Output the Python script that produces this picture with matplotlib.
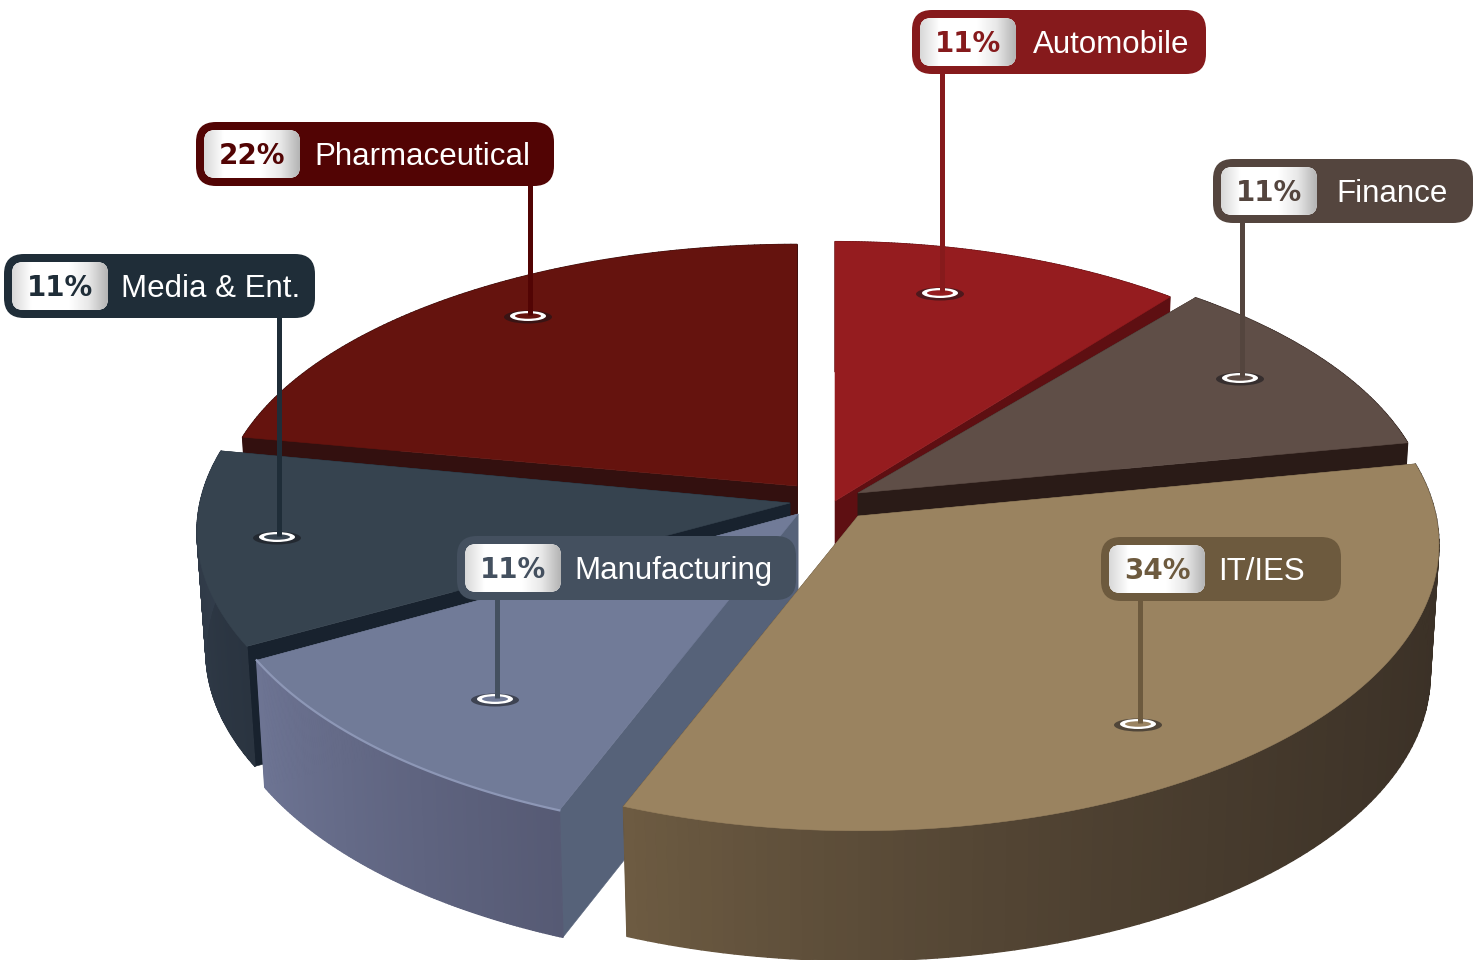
import numpy as np
import matplotlib
matplotlib.use("Agg")
import matplotlib.pyplot as plt
from matplotlib.patches import Polygon, FancyBboxPatch, Ellipse
from matplotlib.collections import PolyCollection
from matplotlib.colors import to_rgb, LinearSegmentedColormap

categories = ["Automobile", "Finance", "IT/IES", "Manufacturing", "Media & Ent.", "Pharmaceutical"]
shares = [11, 11, 34, 11, 11, 22]

# slice styling / placement
centers = {"Automobile": (835, 501, 566, .977), "Finance": (858, 493, 570, .935), "IT/IES": (858, 516, 578, .97),
           "Manufacturing": (798, 514, 588, .99), "Media & Ent.": (790, 503, 590, .97), "Pharmaceutical": (797, 486, 575, .91)}
depths = {"Automobile": 130, "Finance": 130, "IT/IES": 130, "Manufacturing": 127, "Media & Ent.": 120, "Pharmaceutical": 130}
top_col = {"Automobile": "#951c1f", "Finance": "#5f4e47", "IT/IES": "#9a8360", "Manufacturing": "#717b98",
           "Media & Ent.": "#36434f", "Pharmaceutical": "#65130e"}
face_col = {"Automobile": "#5e0f12", "Finance": "#2a1b17", "IT/IES": "#3a2f24", "Manufacturing": "#566279",
            "Media & Ent.": "#18222e", "Pharmaceutical": "#33100f"}
wall_col = {"Automobile": ("#5e0f12", "#5e0f12"), "Finance": ("#2a1b17", "#2a1b17"), "IT/IES": ("#3a3026", "#6d5b42"),
            "Manufacturing": ("#565a74", "#6d7493"), "Media & Ent.": ("#2a3440", "#333e4c"), "Pharmaceutical": ("#33100f", "#33100f")}
box_col = {"Automobile": "#861a1c", "Finance": "#54453e", "IT/IES": "#6d5a3e", "Manufacturing": "#44505f",
           "Media & Ent.": "#1f2d38", "Pharmaceutical": "#520404"}
box_pos = {"Automobile": (912, 10, 1206), "Finance": (1213, 159, 1473), "IT/IES": (1101, 537, 1341),
           "Manufacturing": (457, 536, 796), "Media & Ent.": (4, 254, 315), "Pharmaceutical": (196, 122, 554)}
label_x = {"Automobile": 1033, "Finance": 1336, "IT/IES": 1218, "Manufacturing": 574, "Media & Ent.": 121, "Pharmaceutical": 314}
pin_pos = {"Automobile": (940, 293), "Finance": (1240, 378), "IT/IES": (1138, 724),
           "Manufacturing": (495, 699), "Media & Ent.": (277, 537), "Pharmaceutical": (528, 316)}
draw_order = ["Pharmaceutical", "Automobile", "Finance", "Media & Ent.", "Manufacturing", "IT/IES"]
K, A = 0.10, 292

fig = plt.figure(figsize=(14.76, 9.6), dpi=100)
ax = fig.add_axes([0, 0, 1, 1])
ax.set_xlim(0, 1476)
ax.set_ylim(960, 0)
ax.axis("off")

edges = np.cumsum([0] + shares) / sum(shares) * 360.0
span = {c: (edges[i], edges[i + 1]) for i, c in enumerate(categories)}


def proj(cat, theta, r=1.0, bottom=False):
    cx, cy, R, s = centers[cat]
    t = np.radians(theta)
    u, v = r * np.sin(t), -r * np.cos(t)
    w = 1 / (1 - K * v)
    rs = 0.985 if bottom else 1.0
    x = cx + R * rs * u * w
    y = cy + A * s * v * w + (depths[cat] if bottom else 0)
    return x, y


def mix(a, b, f):
    a, b = np.array(to_rgb(a)), np.array(to_rgb(b))
    return tuple(a + (b - a) * f)


for cat in draw_order:
    a0, a1 = span[cat]
    th = np.linspace(a0, a1, 120)
    # radial side faces
    for ang in (a0, a1):
        ax0, ay0 = proj(cat, ang, 0.0)
        ax1, ay1 = proj(cat, ang, 1.0)
        bx0, by0 = proj(cat, ang, 0.0, True)
        bx1, by1 = proj(cat, ang, 1.0, True)
        ax.add_patch(Polygon([(ax0, ay0), (ax1, ay1), (bx1, by1), (bx0, by0)], closed=True,
                             fc=face_col[cat], ec=face_col[cat], lw=0.4, zorder=1))
    # outer wall
    tx, ty = proj(cat, th)
    bx, by = proj(cat, th, 1.0, True)
    polys, cols = [], []
    cA, cB = wall_col[cat]
    power = 2.2 if cat == "IT/IES" else 1.0
    for i in range(len(th) - 1):
        polys.append([(tx[i], ty[i]), (tx[i + 1], ty[i + 1]), (bx[i + 1], by[i + 1]), (bx[i], by[i])])
        cols.append(mix(cA, cB, (i / (len(th) - 2)) ** power))
    ax.add_collection(PolyCollection(polys, facecolors=cols, edgecolors=cols, linewidths=1.0, zorder=1))
    # top face
    ox, oy = proj(cat, a0, 0.0)
    ax.add_patch(Polygon(np.r_[[(ox, oy)], np.c_[tx, ty]], closed=True, fc=top_col[cat], ec=top_col[cat], lw=0.4, zorder=1))
    if cat == "Manufacturing":
        ax.plot(tx, ty, color="#8d97b6", lw=1.6, zorder=1)

grad = LinearSegmentedColormap.from_list("badge", ["#d8d8d8", "#ffffff", "#ffffff", "#ffffff", "#e8e8e8", "#b4b4b4"])
gx = np.linspace(0, 1, 128)[None, :]

for cat, share in zip(categories, shares):
    x0, y0, x1 = box_pos[cat]
    px, py = pin_pos[cat]
    col = box_col[cat]
    # pin
    ax.add_patch(Ellipse((px, py + 1), 48, 13, fc="#15151a", ec="none", alpha=0.55, zorder=3))
    ax.add_patch(Ellipse((px, py), 36, 10, fc="white", ec="none", zorder=3))
    ax.add_patch(Ellipse((px, py), 26, 5.5, fc=top_col[cat], ec="none", zorder=3))
    ax.plot([px + 2, px + 2], [y0 + 60, py - 1], color=col, lw=3.6, solid_capstyle="butt", zorder=4)
    # box
    ax.add_patch(FancyBboxPatch((x0 + 20, y0 + 20), x1 - x0 - 40, 24, boxstyle="round,pad=20,rounding_size=20",
                                fc=col, ec="none", zorder=5))
    bp = FancyBboxPatch((x0 + 8 + 11, y0 + 8 + 11), 96 - 22, 48 - 22, boxstyle="round,pad=11,rounding_size=11",
                        fc="white", ec="none", zorder=6)
    ax.add_patch(bp)
    im = ax.imshow(gx, cmap=grad, extent=(x0 + 8, x0 + 104, y0 + 56, y0 + 8), aspect="auto", zorder=6.5)
    im.set_clip_path(bp)
    ax.text(x0 + 56, y0 + 34, f"{share}%", color=col, family="DejaVu Sans", weight="bold", fontsize=20,
            ha="center", va="center", zorder=7)
    ax.text(label_x[cat], y0 + 35, cat, color="white",
            family="Liberation Sans", fontsize=22.5, ha="left", va="center", zorder=7)

ax.set_xlim(0, 1476)
ax.set_ylim(960, 0)
fig.savefig("out.png", dpi=100, facecolor="white")
